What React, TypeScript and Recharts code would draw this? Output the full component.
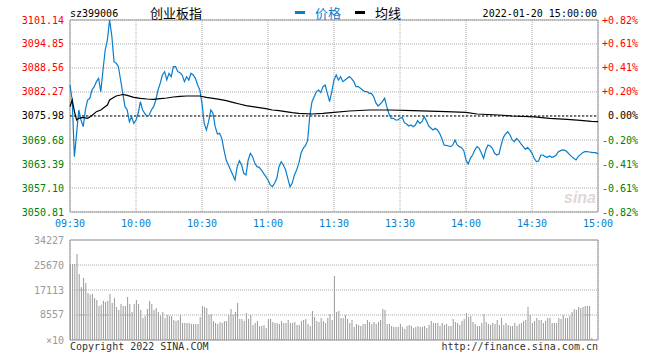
import React from 'react';
import {
  ComposedChart,
  Line,
  Bar,
  XAxis,
  YAxis,
  CartesianGrid,
  ReferenceLine,
  ReferenceArea,
} from 'recharts';

const PREV_CLOSE = 3075.98;

const priceTicks = [3050.81, 3057.1, 3063.39, 3069.68, 3075.98, 3082.27, 3088.56, 3094.85, 3101.14];
const timeTicks = [0, 30, 60, 90, 120, 150, 180, 210, 240];
const timeLabels = ['09:30', '10:00', '10:30', '11:00', '11:30', '13:30', '14:00', '14:30', '15:00'];
const volumeTicks = [0, 8557, 17113, 25670, 34227];

// one value per minute, 09:30 .. 15:00 (lunch break skipped)
const prices = [
  3084.1, 3080.17, 3065.32, 3071.43, 3077.55, 3074.93, 3073.18, 3077.55, 3080.17, 3080.61,
  3082.79, 3083.66, 3084.98, 3085.85, 3082.35, 3088.03, 3093.28, 3095.9, 3101.14, 3097.0,
  3090.22, 3089.8, 3088.9, 3085.41, 3081.92, 3078.42, 3077.55, 3074.49, 3075.8, 3074.05,
  3074.93, 3076.68, 3079.73, 3077.55, 3076.68, 3075.8, 3076.24, 3077.55, 3078.42, 3080.17,
  3082.79, 3084.54, 3086.72, 3087.6, 3085.41, 3087.16, 3086.29, 3088.91, 3088.91, 3087.6,
  3087.34, 3086.72, 3084.98, 3086.29, 3085.41, 3087.16, 3086.72, 3085.85, 3084.1, 3082.79,
  3079.3, 3074.05, 3072.31, 3074.49, 3077.55, 3076.68, 3073.18, 3071.26, 3071.43, 3070.12,
  3067.06, 3064.44, 3063.13, 3061.82, 3060.51, 3059.2, 3062.7, 3064.27, 3063.13, 3060.95,
  3060.51, 3064.44, 3066.19, 3065.32, 3063.57, 3062.7, 3062.52, 3061.82, 3060.95, 3060.07,
  3059.2, 3057.89, 3057.45, 3058.33, 3059.64, 3062.7, 3064.01, 3063.13, 3061.82, 3059.64,
  3057.45, 3058.33, 3060.51, 3061.82, 3063.57, 3066.2, 3067.5, 3068.2, 3069.5, 3076.0,
  3079.74, 3081.05, 3082.36, 3082.79, 3082.09, 3083.67, 3084.1, 3081.92, 3079.74, 3082.36,
  3085.41, 3086.72, 3085.41, 3086.29, 3084.98, 3085.41, 3085.85, 3086.29, 3085.76, 3084.98,
  3083.67, 3083.67, 3083.23, 3082.79, 3082.36, 3082.36, 3081.92, 3081.92, 3081.05, 3079.47,
  3078.6, 3079.12, 3079.74, 3080.61, 3078.42, 3076.5, 3075.37, 3075.37, 3074.93, 3074.93,
  3075.37, 3075.63, 3074.23, 3073.88, 3073.36, 3073.62, 3073.18, 3073.62, 3074.76, 3074.06,
  3074.49, 3075.8, 3074.76, 3073.36, 3072.83, 3072.31, 3072.75, 3072.31, 3071.43, 3070.12,
  3068.38, 3068.29, 3068.11, 3067.94, 3068.38, 3069.69, 3068.38, 3067.94, 3067.68, 3066.89,
  3064.45, 3063.4, 3064.88, 3065.75, 3067.07, 3067.94, 3067.5, 3066.19, 3064.88, 3067.07,
  3068.38, 3068.11, 3067.5, 3066.19, 3065.75, 3066.02, 3068.38, 3070.39, 3071.26, 3071.87,
  3071.0, 3069.69, 3069.25, 3070.12, 3069.51, 3068.64, 3067.94, 3067.24, 3067.76, 3067.07,
  3066.19, 3064.88, 3064.01, 3064.18, 3065.75, 3065.75, 3065.32, 3065.14, 3065.49, 3065.14,
  3065.32, 3065.75, 3066.63, 3066.89, 3067.07, 3066.98, 3066.54, 3065.93, 3065.32, 3064.88,
  3064.45, 3065.32, 3065.84, 3066.37, 3066.63, 3066.63, 3066.54, 3066.45, 3066.37, 3066.37,
  3066.02,
];

// average price line, read at its turning points
const avgMinutes = [
  0, 1, 2, 3, 4, 6, 8, 10, 12, 14, 15, 17, 18, 20, 21, 23, 24, 26, 29, 32, 35, 38, 41, 44, 47,
  50, 53, 59, 62, 65, 68, 71, 74, 77, 80, 83, 86, 89, 92, 95, 98, 101, 104, 110, 115, 120, 127,
  136, 145, 156, 171, 180, 185, 195, 201, 211, 218, 226, 232, 237, 240,
];
const avgPrices = [
  3078.42, 3080.17, 3077.2, 3074.93, 3075.36, 3075.6, 3075.36, 3076.1, 3077.11, 3077.55, 3077.99,
  3078.86, 3080.17, 3080.87, 3081.22, 3081.48, 3081.66, 3081.39, 3080.87, 3080.61, 3080.43,
  3080.35, 3080.52, 3080.69, 3080.96, 3081.13, 3081.22, 3081.22, 3080.87, 3080.61, 3080.35,
  3080.0, 3079.56, 3079.12, 3078.69, 3078.42, 3078.16, 3077.9, 3077.55, 3077.38, 3077.11,
  3076.85, 3076.68, 3076.5, 3076.68, 3076.94, 3077.29, 3077.55, 3077.55, 3077.38, 3077.11,
  3076.94, 3076.5, 3076.24, 3075.98, 3075.72, 3075.37, 3075.1, 3074.84, 3074.58, 3074.49,
];

const volumes = [
  26000, 26010, 26010, 29440, 22590, 18030, 21220, 19510, 16090, 15520,
  15740, 14380, 13690, 11640, 12090, 13460, 13010, 13460, 15740, 12660,
  14380, 11290, 10270, 12320, 11640, 11640, 14720, 12320, 9580, 12320,
  13690, 12320, 10270, 7530, 8210, 10610, 13350, 12320, 10270, 10950,
  9580, 8210, 9580, 7530, 8560, 8210, 8210, 6850, 6500, 6850,
  8560, 5820, 5820, 5820, 5820, 5480, 5480, 5480, 5480, 7870,
  11640, 11290, 10950, 8560, 8900, 6500, 5820, 5480, 6160, 5820,
  6500, 6500, 8560, 10610, 8560, 9580, 12660, 7190, 7190, 6500,
  9240, 7190, 8560, 5130, 5820, 6500, 4790, 4790, 5130, 4110,
  7190, 7190, 6160, 5820, 5820, 5480, 6500, 5820, 5820, 6850,
  5820, 5820, 6160, 5130, 5130, 6500, 6850, 7190, 5480, 4790,
  9930, 7870, 6500, 6160, 7530, 6500, 5820, 7530, 8900, 6850,
  21900, 9580, 9930, 7530, 7530, 8560, 7190, 5820, 6850, 4450,
  5480, 5130, 4790, 5480, 5480, 6850, 6160, 5480, 6160, 5480,
  6160, 6850, 10610, 10270, 5480, 5480, 4790, 4450, 4450, 4450,
  5480, 4450, 3770, 4790, 5130, 4790, 4110, 4450, 4790, 4450,
  4450, 4790, 4110, 5130, 6500, 5820, 5820, 5820, 4790, 5820,
  5130, 5480, 4790, 4790, 7190, 6160, 5820, 5130, 6500, 7190,
  9240, 7870, 8210, 6160, 5480, 4790, 4790, 5820, 8900, 6160,
  5480, 5130, 5820, 5480, 6850, 5130, 7530, 5130, 5820, 5130,
  4790, 4790, 5820, 4790, 5480, 5820, 6500, 6850, 11290, 8560,
  5820, 6500, 7530, 6850, 6850, 5820, 6500, 7530, 7530, 5820,
  5820, 5820, 7530, 7190, 8560, 7530, 7530, 8210, 9580, 10610,
  10270, 11290, 10950, 11290, 11640, 11640, 11640, 680, 0, 0,
  0,
];

const priceData: { t: number; price: number; avg?: number }[] = prices.map((p, i) => ({ t: i, price: p }));
avgMinutes.forEach((m, k) => {
  priceData[m].avg = avgPrices[k];
});
const volumeData = volumes.map((v, i) => ({ t: i, vol: v }));

const BLUE = '#0a7dcc';
const RED = '#ff0000';
const GREEN = '#008000';
const GRID = '#aaaaaa';
const FRAME = '#999999';
const MONO = '"DejaVu Sans Mono", monospace';
const CJK = '"Noto Sans CJK SC", sans-serif';

const colorFor = (v: number) =>
  v > PREV_CLOSE + 0.001 ? RED : v < PREV_CLOSE - 0.001 ? GREEN : '#000';

const pctLabel = (v: number) => {
  const pct = ((v - PREV_CLOSE) / PREV_CLOSE) * 100;
  if (Math.abs(pct) < 0.001) return '0.00%';
  return (pct > 0 ? '+' : '') + pct.toFixed(2) + '%';
};

const LeftTick = (props: any) => {
  const { x, y, payload } = props;
  return (
    <text x={x} y={y} dy={3.5} textAnchor="end" fontFamily={MONO} fontSize={10} fill={colorFor(payload.value)}>
      {payload.value.toFixed(2)}
    </text>
  );
};

const RightTick = (props: any) => {
  const { x, y, payload } = props;
  return (
    <text x={x + 34} y={y} dy={3.5} textAnchor="end" fontFamily={MONO} fontSize={10} fill={colorFor(payload.value)}>
      {pctLabel(payload.value)}
    </text>
  );
};

const TimeTick = (props: any) => {
  const { x, y, payload } = props;
  const idx = timeTicks.indexOf(payload.value);
  return (
    <text x={x} y={y} dy={7} textAnchor="middle" fontFamily={MONO} fontSize={10} fill={BLUE}>
      {timeLabels[idx]}
    </text>
  );
};

const VolumeTick = (props: any) => {
  const { x, y, payload } = props;
  return (
    <text x={x} y={y} dy={3.5} textAnchor="end" fontFamily={MONO} fontSize={10} fill="#999">
      {payload.value === 0 ? '×10' : payload.value}
    </text>
  );
};

const App = () => {
  return (
    <div style={{ position: 'absolute', left: 0, top: 0, width: 660, height: 360, background: '#fff' }}>
      <div style={{ position: 'absolute', left: 0, top: 0 }}>
        <ComposedChart width={660} height={232} data={priceData} margin={{ top: 20, right: 0, bottom: 0, left: 0 }}>
          <CartesianGrid stroke={GRID} strokeDasharray="1 1" />
          <XAxis
            dataKey="t"
            type="number"
            domain={[0, 240]}
            ticks={timeTicks}
            interval={0}
            height={20}
            axisLine={false}
            tickLine={false}
            tick={TimeTick}
          />
          <YAxis
            domain={[3050.81, 3101.14]}
            ticks={priceTicks}
            interval={0}
            width={70}
            allowDataOverflow
            axisLine={false}
            tickLine={false}
            tickMargin={0}
            tick={LeftTick}
          />
          <YAxis
            yAxisId="right"
            orientation="right"
            domain={[3050.81, 3101.14]}
            ticks={priceTicks}
            interval={0}
            width={62}
            allowDataOverflow
            axisLine={false}
            tickLine={false}
            tickMargin={0}
            tick={RightTick}
          />
          <ReferenceLine y={PREV_CLOSE} stroke="#000" strokeDasharray="2 2" />
          <Line
            type="linear"
            dataKey="price"
            stroke={BLUE}
            strokeWidth={1.2}
            dot={false}
            isAnimationActive={false}
          />
          <Line
            yAxisId="right"
            type="linear"
            dataKey="avg"
            stroke="#000"
            strokeWidth={1.2}
            dot={false}
            connectNulls
            isAnimationActive={false}
          />
          <ReferenceArea x1={0} x2={240} y1={3050.81} y2={3101.14} fill="none" stroke={FRAME} />
        </ComposedChart>
      </div>
      <div style={{ position: 'absolute', left: 0, top: 232 }}>
        <ComposedChart width={660} height={128} data={volumeData} margin={{ top: 8, right: 62, bottom: 20, left: 0 }}>
          <CartesianGrid stroke={GRID} strokeDasharray="1 1" />
          <XAxis
            dataKey="t"
            type="number"
            domain={[0, 240]}
            ticks={timeTicks}
            interval={0}
            height={0}
            axisLine={false}
            tickLine={false}
            tick={false}
          />
          <YAxis
            domain={[0, 34227]}
            ticks={volumeTicks}
            interval={0}
            width={70}
            allowDataOverflow
            axisLine={false}
            tickLine={false}
            tickMargin={0}
            tick={VolumeTick}
          />
          <Bar dataKey="vol" fill="#999" barSize={1} isAnimationActive={false} />
          <ReferenceArea x1={0} x2={240} y1={0} y2={34227} fill="none" stroke={FRAME} />
        </ComposedChart>
      </div>
      <svg
        width={660}
        height={360}
        style={{ position: 'absolute', left: 0, top: 0, pointerEvents: 'none' }}
      >
        <text x={70} y={17} fontFamily={MONO} fontSize={10} fill="#000">sz399006</text>
        <text x={150} y={18} fontFamily={CJK} fontSize={13} fill="#000">创业板指</text>
        <rect x={295} y={11} width={10} height={3} fill={BLUE} />
        <text x={315} y={18} fontFamily={CJK} fontSize={13} fill={BLUE}>价格</text>
        <rect x={355} y={11} width={10} height={3} fill="#000" />
        <text x={375} y={18} fontFamily={CJK} fontSize={13} fill="#000">均线</text>
        <text x={597} y={17} textAnchor="end" fontFamily={MONO} fontSize={10} fill="#000">2022-01-20 15:00:00</text>
        <text x={580} y={203} textAnchor="middle" fontFamily="sans-serif" fontStyle="italic" fontWeight="bold" fontSize={16} fill="#e3d6d6">sina</text>
        <text x={70} y={350} fontFamily={MONO} fontSize={10} fill="#333">Copyright 2022 SINA.COM</text>
        <text x={598} y={350} textAnchor="end" fontFamily={MONO} fontSize={10} fill="#333">http://finance.sina.com.cn</text>
      </svg>
    </div>
  );
};

export default App;
